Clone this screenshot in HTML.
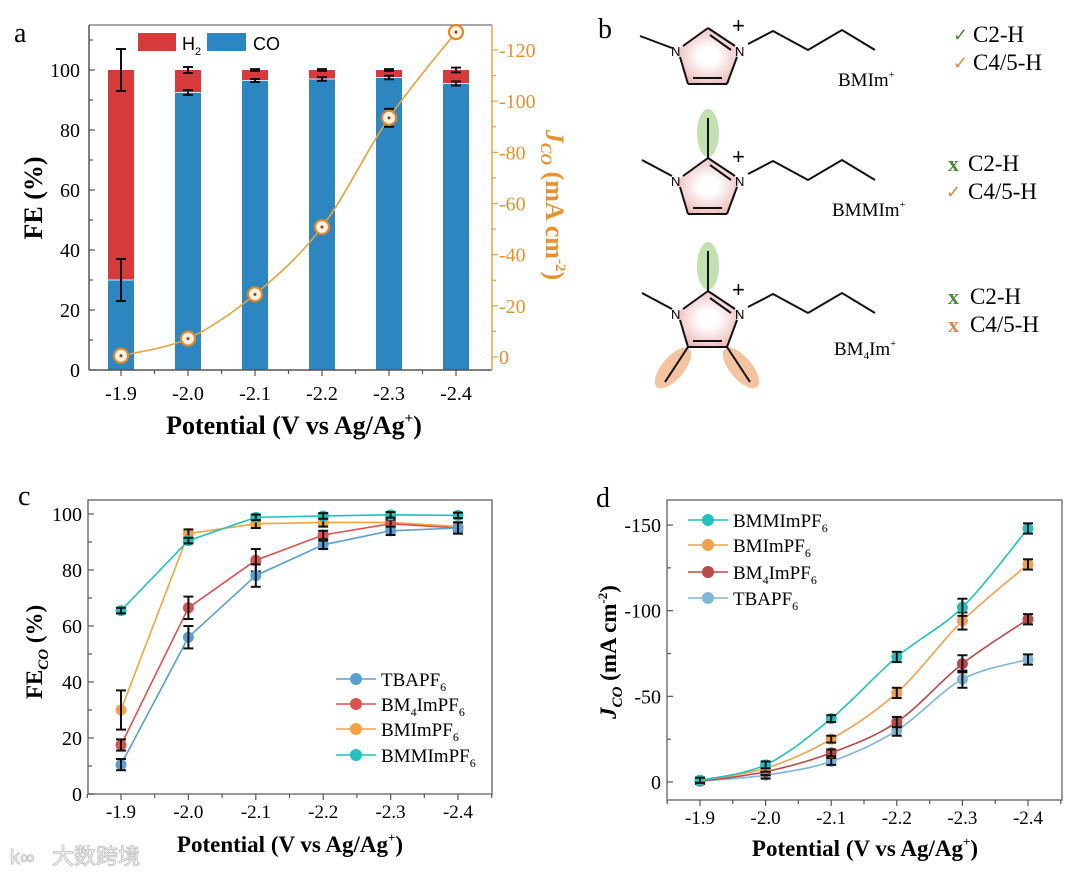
<!DOCTYPE html>
<html><head><meta charset="utf-8"><style>
html,body{margin:0;padding:0;background:#fff;}
svg{display:block;}
text{font-family:"Liberation Serif",serif;}
.sans{font-family:"Liberation Sans",sans-serif;}
</style></head>
<body>
<svg id="fig" width="1080" height="875" viewBox="0 0 1080 875" xmlns="http://www.w3.org/2000/svg">
<g id="panelB">
<defs>
<radialGradient id="ringGrad" cx="0.5" cy="0.5" r="0.6">
<stop offset="0.25" stop-color="#ffffff"/><stop offset="1" stop-color="#e9b0b0"/>
</radialGradient>
</defs>
<text x="598" y="38" font-size="28">b</text>
<g stroke="#111" stroke-width="2" fill="none">
<polygon points="677,50 708,28 740,50 727,84 688,84" fill="url(#ringGrad)" stroke="none"/>
<polyline points="640,36 672,48"/>
<line x1="683" y1="46" x2="708" y2="28"/><line x1="708" y1="28" x2="735" y2="46"/>
<line x1="710" y1="35" x2="731" y2="50"/>
<line x1="680" y1="57" x2="688" y2="84"/><line x1="737" y1="57" x2="727" y2="84"/>
<line x1="688" y1="84" x2="727" y2="84"/><line x1="693" y1="78" x2="722" y2="78"/>
<polyline points="748,44 773,31 808,50 842,30 875,50"/>
</g>
<text x="671" y="56" font-size="13" class="sans">N</text>
<text x="735" y="56" font-size="13" class="sans">N</text>
<text x="732" y="33" font-size="22" class="sans">+</text>
<text x="838" y="86" font-size="19">BMIm<tspan font-size="10" dy="-8">+</tspan></text>
<text x="953" y="41" font-size="18" fill="#4a8a3a" class="sans">✓</text>
<text x="973" y="42" font-size="23">C2-H</text>
<text x="953" y="69" font-size="18" fill="#e08a40" class="sans">✓</text>
<text x="973" y="70" font-size="23">C4/5-H</text>
<ellipse cx="708" cy="133" rx="11" ry="24" fill="#b9dca2" opacity="0.85"/>
<g stroke="#111" stroke-width="2" fill="none">
<polygon points="677,180 708,158 740,180 727,214 688,214" fill="url(#ringGrad)" stroke="none"/>
<polyline points="642,160 672,176"/>
<line x1="708" y1="118" x2="708" y2="158"/>
<line x1="683" y1="176" x2="708" y2="158"/><line x1="708" y1="158" x2="735" y2="176"/>
<line x1="710" y1="165" x2="731" y2="180"/>
<line x1="680" y1="187" x2="688" y2="214"/><line x1="737" y1="187" x2="727" y2="214"/>
<line x1="688" y1="214" x2="727" y2="214"/><line x1="693" y1="208" x2="722" y2="208"/>
<polyline points="748,174 773,161 808,180 842,160 875,180"/>
</g>
<text x="671" y="186" font-size="13" class="sans">N</text>
<text x="735" y="186" font-size="13" class="sans">N</text>
<text x="732" y="164" font-size="22" class="sans">+</text>
<text x="832" y="216" font-size="19">BMMIm<tspan font-size="10" dy="-8">+</tspan></text>
<text x="948" y="171" font-size="22" font-weight="bold" fill="#4a8a3a">x</text>
<text x="968" y="171" font-size="23">C2-H</text>
<text x="946" y="198" font-size="18" fill="#e08a40" class="sans">✓</text>
<text x="968" y="199" font-size="23">C4/5-H</text>
<ellipse cx="708" cy="266" rx="11" ry="24" fill="#b9dca2" opacity="0.85"/>
<ellipse cx="673" cy="368" rx="11" ry="25" transform="rotate(40 673 368)" fill="#f2b98e" opacity="0.85"/>
<ellipse cx="741" cy="368" rx="11" ry="25" transform="rotate(-40 741 368)" fill="#f2b98e" opacity="0.85"/>
<g stroke="#111" stroke-width="2" fill="none">
<polygon points="677,313 708,291 740,313 727,347 688,347" fill="url(#ringGrad)" stroke="none"/>
<polyline points="642,293 672,309"/>
<line x1="708" y1="251" x2="708" y2="291"/>
<line x1="683" y1="309" x2="708" y2="291"/><line x1="708" y1="291" x2="735" y2="309"/>
<line x1="710" y1="298" x2="731" y2="313"/>
<line x1="680" y1="320" x2="688" y2="347"/><line x1="737" y1="320" x2="727" y2="347"/>
<line x1="688" y1="347" x2="727" y2="347"/><line x1="693" y1="341" x2="722" y2="341"/>
<line x1="688" y1="347" x2="665" y2="382"/><line x1="727" y1="347" x2="750" y2="382"/>
<polyline points="748,307 773,294 808,313 842,293 875,313"/>
</g>
<text x="671" y="319" font-size="13" class="sans">N</text>
<text x="735" y="319" font-size="13" class="sans">N</text>
<text x="732" y="297" font-size="22" class="sans">+</text>
<text x="834" y="355" font-size="19">BM<tspan font-size="11" dy="4">4</tspan><tspan dy="-4">Im</tspan><tspan font-size="10" dy="-8">+</tspan></text>
<text x="948" y="304" font-size="22" font-weight="bold" fill="#4a8a3a">x</text>
<text x="970" y="304" font-size="23">C2-H</text>
<text x="948" y="332" font-size="22" font-weight="bold" fill="#e08a40">x</text>
<text x="970" y="332" font-size="23">C4/5-H</text>
</g>
<text x="52" y="864" font-size="22" fill="#fff" stroke="#c8c8c8" stroke-width="1" font-family="'Liberation Sans','Noto Sans CJK SC',sans-serif">大数跨境</text>
<text x="10" y="864" font-size="20" fill="#fff" stroke="#c8c8c8" stroke-width="1" class="sans">k∞</text>
</svg>
<script>
// ---------- data ----------
const potentials = ["-1.9","-2.0","-2.1","-2.2","-2.3","-2.4"];
// panel a
const aCO = [30, 92.5, 96.5, 97, 97.5, 95.5];
const aCOerr = [7, 0.8, 0.5, 0.6, 0.6, 0.7];
const aH2 = [70, 7.5, 3.5, 3, 2.5, 4.5];
const aH2err = [7, 1, 0.3, 0.3, 0.3, 0.8];
const aJ = [0.5, 7.2, 24.5, 50.8, 93.5, 127];
const aJerr = [1, 1.5, 2, 2, 3.5, 1.5];
const aLeftTicks = [0,20,40,60,80,100];
const aRightTicks = [0,20,40,60,80,100,120];
const aRightLabels = ["0","-20","-40","-60","-80","-100","-120"];
// panel c
const cSeriesNames = ["TBAPF6","BM4ImPF6","BMImPF6","BMMImPF6"];
const cTBA = [10.5, 56, 78, 89, 94, 95];
const cBM4 = [17.5, 66.5, 83.5, 92.5, 96.5, 95];
const cBMIm = [30, 93, 96.5, 97, 97, 95.5];
const cBMMIm = [65.5, 90.5, 98.8, 99.3, 99.7, 99.5];
const cErr = [2, 4, 4, 1.5, 1.5, 2];
const cTicks = [0,20,40,60,80,100];
// panel d
const dBMMIm = [1, 10, 37, 73, 102, 148];
const dBMIm = [1, 8, 25, 52, 94, 127];
const dBM4 = [0.5, 6, 17, 35, 69, 95];
const dTBA = [0.5, 4, 12, 30, 60, 71.5];
const dErr = [1.5, 2, 2, 3, 5, 3];
const dTicks = [0,50,100,150];
const dTickLabels = ["0","-50","-100","-150"];

const NS = "http://www.w3.org/2000/svg";
const fig = document.getElementById('fig');
function mk(parent, tag, attrs, name, inter) {
  const el = document.createElementNS(NS, tag);
  for (const k in attrs) el.setAttribute(k, attrs[k]);
  
  
  parent.appendChild(el);
  return el;
}
function txt(parent, x, y, s, size, name, extra) {
  const a = Object.assign({x:x, y:y, 'font-size':size}, extra || {});
  const t = mk(parent, 'text', a, name, false);
  t.textContent = s;
  return t;
}
function smoothPath(pts) {
  let d = "M" + pts[0][0] + "," + pts[0][1];
  for (let i = 0; i < pts.length - 1; i++) {
    const p0 = pts[i-1] || pts[i], p1 = pts[i], p2 = pts[i+1], p3 = pts[i+2] || p2;
    const c1x = p1[0] + (p2[0]-p0[0])/6, c1y = p1[1] + (p2[1]-p0[1])/6;
    const c2x = p2[0] - (p3[0]-p1[0])/6, c2y = p2[1] - (p3[1]-p1[1])/6;
    d += " C" + c1x + "," + c1y + " " + c2x + "," + c2y + " " + p2[0] + "," + p2[1];
  }
  return d;
}
function errBar(g, x, y1, y2, name) {
  mk(g, 'line', {x1:x, x2:x, y1:y1, y2:y2, stroke:'#111', 'stroke-width':2}, name, false);
  mk(g, 'line', {x1:x-5, x2:x+5, y1:y1, y2:y1, stroke:'#111', 'stroke-width':2}, name + '-cap', false);
  mk(g, 'line', {x1:x-5, x2:x+5, y1:y2, y2:y2, stroke:'#111', 'stroke-width':2}, name + '-cap', false);
}

// ---------- panel a ----------
(function(){
  const g = mk(fig, 'g', {}, 'panel-a-chart', false);
  const L = 89, R = 492, T = 25, B = 370;
  const xA = i => 121 + i * 67;
  const yA = v => B - v * 3.0;
  const yJ = v => 357 - v * 2.558;
  txt(g, 14, 42, 'a', 28, 'panel-label-a');
  potentials.forEach((p, i) => {
    mk(g, 'rect', {x:xA(i)-13, y:yA(aCO[i]), width:26, height:B-yA(aCO[i]), fill:'#2e86c1'}, 'bar-co-' + p, false);
    mk(g, 'rect', {x:xA(i)-13, y:yA(aCO[i]+aH2[i]), width:26, height:yA(aCO[i])-yA(aCO[i]+aH2[i]), fill:'#d63a3a'}, 'bar-h2-' + p, false);
    mk(g, 'line', {x1:xA(i)-13, x2:xA(i)+13, y1:yA(aCO[i]), y2:yA(aCO[i]), stroke:'#cfe6f5', 'stroke-width':1}, 'bar-divider', false);
    errBar(g, xA(i), yA(aCO[i]+aCOerr[i]), yA(aCO[i]-aCOerr[i]), 'error-bar-co');
    errBar(g, xA(i), yA(aCO[i]+aH2[i]+aH2err[i]), yA(aCO[i]+aH2[i]-aH2err[i]), 'error-bar-h2');
  });
  mk(g, 'line', {x1:L, x2:R, y1:T, y2:T, stroke:'#888', 'stroke-width':1.5}, 'frame-top', false);
  mk(g, 'line', {x1:L, x2:L, y1:T, y2:B, stroke:'#555', 'stroke-width':1.5}, 'y-axis-left', false);
  mk(g, 'line', {x1:L, x2:R, y1:B, y2:B, stroke:'#555', 'stroke-width':1.5}, 'x-axis', false);
  mk(g, 'line', {x1:R, x2:R, y1:T, y2:B, stroke:'#eba24a', 'stroke-width':1.5}, 'y-axis-right', false);
  for (let v = 0; v <= 110; v += 10) {
    const maj = v % 20 === 0;
    mk(g, 'line', {x1:L, x2:L+(maj?6:4), y1:yA(v), y2:yA(v), stroke:'#555', 'stroke-width':1.2}, 'y-tick-left', false);
  }
  aLeftTicks.forEach(v => txt(g, 80, yA(v)+7, String(v), 20, 'y-tick-label-left', {'text-anchor':'end'}));
  for (let v = 0; v <= 120; v += 10) {
    const maj = v % 20 === 0;
    mk(g, 'line', {x1:R, x2:R+(maj?6:4), y1:yJ(v), y2:yJ(v), stroke:'#eba24a', 'stroke-width':1.2}, 'y-tick-right', false);
  }
  aRightTicks.forEach((v, k) => txt(g, 499, yJ(v)+7, aRightLabels[k], 20, 'y-tick-label-right', {fill:'#e8912f'}));
  potentials.forEach((p, i) => {
    mk(g, 'line', {x1:xA(i), x2:xA(i), y1:B, y2:B+6, stroke:'#555', 'stroke-width':1.2}, 'x-tick', false);
    if (i < 5) mk(g, 'line', {x1:xA(i)+33.5, x2:xA(i)+33.5, y1:B, y2:B+4, stroke:'#555', 'stroke-width':1.2}, 'x-minor-tick', false);
    txt(g, xA(i), 400, p, 20, 'x-tick-label', {'text-anchor':'middle'});
  });
  const xt = txt(g, 294, 434, 'Potential (V vs Ag/Ag', 26, 'x-axis-title', {'text-anchor':'middle', 'font-weight':'bold'});
  const sup = document.createElementNS(NS, 'tspan'); sup.setAttribute('font-size','15'); sup.setAttribute('dy','-11'); sup.textContent = '+'; xt.appendChild(sup);
  const cl = document.createElementNS(NS, 'tspan'); cl.setAttribute('dy','11'); cl.textContent = ')'; xt.appendChild(cl);
  txt(g, 0, 0, 'FE (%)', 26, 'y-axis-title-left', {'text-anchor':'middle', 'font-weight':'bold', transform:'translate(42,198) rotate(-90)'});
  const rt = txt(g, 0, 0, '', 26, 'y-axis-title-right', {'text-anchor':'middle', 'font-weight':'bold', fill:'#e8912f', transform:'translate(546,205) rotate(90)'});
  rt.innerHTML = '<tspan font-style="italic">J</tspan><tspan font-style="italic" font-size="16" dy="5">CO</tspan><tspan dy="-5"> (mA cm</tspan><tspan font-size="15" dy="-10">-2</tspan><tspan dy="10">)</tspan>';
  const pts = aJ.map((v, i) => [xA(i), yJ(v)]);
  mk(g, 'path', {d:smoothPath(pts), fill:'none', stroke:'#e8a23a', 'stroke-width':1.6}, 'jco-line', false);
  aJ.forEach((v, i) => {
    errBar(g, xA(i), yJ(v+aJerr[i]), yJ(v-aJerr[i]), 'error-bar-jco');
    mk(g, 'circle', {cx:xA(i), cy:yJ(v), r:7, fill:'#fdf1e2', stroke:'#e08a2a', 'stroke-width':2.2}, 'jco-point-' + potentials[i], false);
    mk(g, 'circle', {cx:xA(i), cy:yJ(v), r:1.5, fill:'#7a4a1a'}, 'jco-point-center', false);
  });
  mk(g, 'rect', {x:138, y:33, width:38, height:18, fill:'#d63a3a'}, 'legend-swatch-h2', true);
  const lh = txt(g, 182, 50, 'H', 18, 'legend-label-h2', {class:'sans'});
  const sub = document.createElementNS(NS, 'tspan'); sub.setAttribute('font-size','11'); sub.setAttribute('dy','5'); sub.textContent = '2'; lh.appendChild(sub);
  mk(g, 'rect', {x:207, y:33, width:39, height:18, fill:'#2e86c1'}, 'legend-swatch-co', true);
  txt(g, 253, 50, 'CO', 18, 'legend-label-co', {class:'sans'});
})();

// ---------- line charts c, d ----------
const colors = {TBA:'#5b9fd0', BM4:'#d9534f', BMIm:'#f5a340', BMMIm:'#22c0bf'};
function lineChart(cfg) {
  const g = mk(fig, 'g', {}, cfg.name, false);
  const {L, R, T, B} = cfg;
  mk(g, 'rect', {x:L, y:T, width:R-L, height:B-T, fill:'none', stroke:'#777', 'stroke-width':1.5}, 'plot-frame', false);
  cfg.ticks.forEach((v, k) => {
    mk(g, 'line', {x1:L, x2:L+6, y1:cfg.y(v), y2:cfg.y(v), stroke:'#555', 'stroke-width':1.2}, 'y-tick', false);
    txt(g, L-6, cfg.y(v)+7, cfg.tickLabels[k], 20, 'y-tick-label', {'text-anchor':'end'});
    if (k < cfg.ticks.length - 1) {
      const mv = (v + cfg.ticks[k+1]) / 2;
      mk(g, 'line', {x1:L, x2:L+4, y1:cfg.y(mv), y2:cfg.y(mv), stroke:'#555', 'stroke-width':1.2}, 'y-minor-tick', false);
    }
  });
  potentials.forEach((p, i) => {
    mk(g, 'line', {x1:cfg.x(i), x2:cfg.x(i), y1:B, y2:B+6, stroke:'#555', 'stroke-width':1.2}, 'x-tick', false);
    mk(g, 'line', {x1:cfg.x(i)+cfg.step/2, x2:cfg.x(i)+cfg.step/2, y1:B, y2:B+4, stroke:'#555', 'stroke-width':1.2}, 'x-minor-tick', false);
    txt(g, cfg.x(i), cfg.tickY, p, 19, 'x-tick-label', {'text-anchor':'middle'});
  });
  mk(g, 'line', {x1:cfg.x(0)-cfg.step/2, x2:cfg.x(0)-cfg.step/2, y1:B, y2:B+4, stroke:'#555', 'stroke-width':1.2}, 'x-minor-tick', false);
  const xt = txt(g, cfg.titleX, cfg.titleY, 'Potential (V vs Ag/Ag', 23, 'x-axis-title', {'text-anchor':'middle', 'font-weight':'bold'});
  xt.innerHTML = 'Potential (V vs Ag/Ag<tspan font-size="13" dy="-10">+</tspan><tspan dy="10">)</tspan>';
  const yt = txt(g, 0, 0, '', 23, 'y-axis-title', {'text-anchor':'middle', 'font-weight':'bold', transform:'translate(' + cfg.ytX + ',' + cfg.ytY + ') rotate(-90)'});
  yt.innerHTML = cfg.ytHTML;
  txt(g, cfg.labelX, cfg.labelY, cfg.label, 28, 'panel-label-' + cfg.label);
  return g;
}
function drawSeries(g, cfg, vals, err, color, key, smooth) {
  const pts = vals.map((v, i) => [cfg.x(i), cfg.y(v)]);
  const d = smooth ? smoothPath(pts) : 'M' + pts.map(p => p.join(',')).join(' L');
  mk(g, 'path', {d:d, fill:'none', stroke:color, 'stroke-width':1.6}, 'line-' + key, false);
  vals.forEach((v, i) => {
    mk(g, 'circle', {cx:cfg.x(i), cy:cfg.y(v), r:5.5, fill:color}, 'point-' + key, false);
    errBar(g, cfg.x(i), cfg.y(v+err[i]), cfg.y(v-err[i]), 'error-bar-' + key);
  });
}
function legendRow(g, x, y, color, key, html) {
  mk(g, 'line', {x1:x, x2:x+40, y1:y, y2:y, stroke:color, 'stroke-width':1.6}, 'legend-line-' + key, true);
  mk(g, 'circle', {cx:x+20, cy:y, r:6, fill:color}, 'legend-marker-' + key, true);
  const t = txt(g, x+45, y+7, '', 19, 'legend-label-' + key);
  t.innerHTML = html;
}
const sub6 = '<tspan font-size="12" dy="5">6</tspan>';
const cCfg = {name:'panel-c-chart', L:88, R:492, T:500, B:794, step:67.4,
  x: i => 121 + i * 67.4, y: v => 794 - v * 2.8,
  ticks: cTicks, tickLabels: cTicks.map(String), tickY: 818,
  titleX: 290, titleY: 852, ytX: 42, ytY: 652,
  ytHTML: 'FE<tspan font-style="italic" font-size="15" dy="6">CO</tspan><tspan dy="-6"> (%)</tspan>',
  label:'c', labelX:18, labelY:505};
const gc = lineChart(cCfg);
drawSeries(gc, cCfg, cBMIm, cErr.map((e,i)=>i===0?7:1.5), colors.BMIm, 'bmimpf6', false);
drawSeries(gc, cCfg, cBM4, cErr, colors.BM4, 'bm4impf6', false);
drawSeries(gc, cCfg, cTBA, cErr, colors.TBA, 'tbapf6', false);
drawSeries(gc, cCfg, cBMMIm, cErr.map(e=>Math.min(e,1)), colors.BMMIm, 'bmmimpf6', false);
legendRow(gc, 336, 679, colors.TBA, 'tbapf6', 'TBAPF' + sub6);
legendRow(gc, 336, 704, colors.BM4, 'bm4impf6', 'BM<tspan font-size="12" dy="5">4</tspan><tspan dy="-5">ImPF</tspan>' + sub6);
legendRow(gc, 336, 729, colors.BMIm, 'bmimpf6', 'BMImPF' + sub6);
legendRow(gc, 336, 755, colors.BMMIm, 'bmmimpf6', 'BMMImPF' + sub6);
const dCfg = {name:'panel-d-chart', L:667, R:1062, T:500, B:800, step:65.6,
  x: i => 700 + i * 65.6, y: v => 782 - v * 1.713,
  ticks: dTicks, tickLabels: dTickLabels, tickY: 824,
  titleX: 865, titleY: 856, ytX: 616, ytY: 652,
  ytHTML: '<tspan font-style="italic">J</tspan><tspan font-style="italic" font-size="15" dy="6">CO</tspan><tspan dy="-6"> (mA cm</tspan><tspan font-size="13" dy="-9">-2</tspan><tspan dy="9">)</tspan>',
  label:'d', labelX:596, labelY:507};
const gd = lineChart(dCfg);
drawSeries(gd, dCfg, dTBA, dErr, '#7fb5d8', 'tbapf6', true);
drawSeries(gd, dCfg, dBM4, dErr, '#b94a4a', 'bm4impf6', true);
drawSeries(gd, dCfg, dBMIm, dErr, '#f0a050', 'bmimpf6', true);
drawSeries(gd, dCfg, dBMMIm, dErr, colors.BMMIm, 'bmmimpf6', true);
legendRow(gd, 688, 520, colors.BMMIm, 'bmmimpf6', 'BMMImPF' + sub6);
legendRow(gd, 688, 545, '#f0a050', 'bmimpf6', 'BMImPF' + sub6);
legendRow(gd, 688, 572, '#b94a4a', 'bm4impf6', 'BM<tspan font-size="12" dy="5">4</tspan><tspan dy="-5">ImPF</tspan>' + sub6);
legendRow(gd, 688, 598, '#7fb5d8', 'tbapf6', 'TBAPF' + sub6);
</script>
</body></html>
